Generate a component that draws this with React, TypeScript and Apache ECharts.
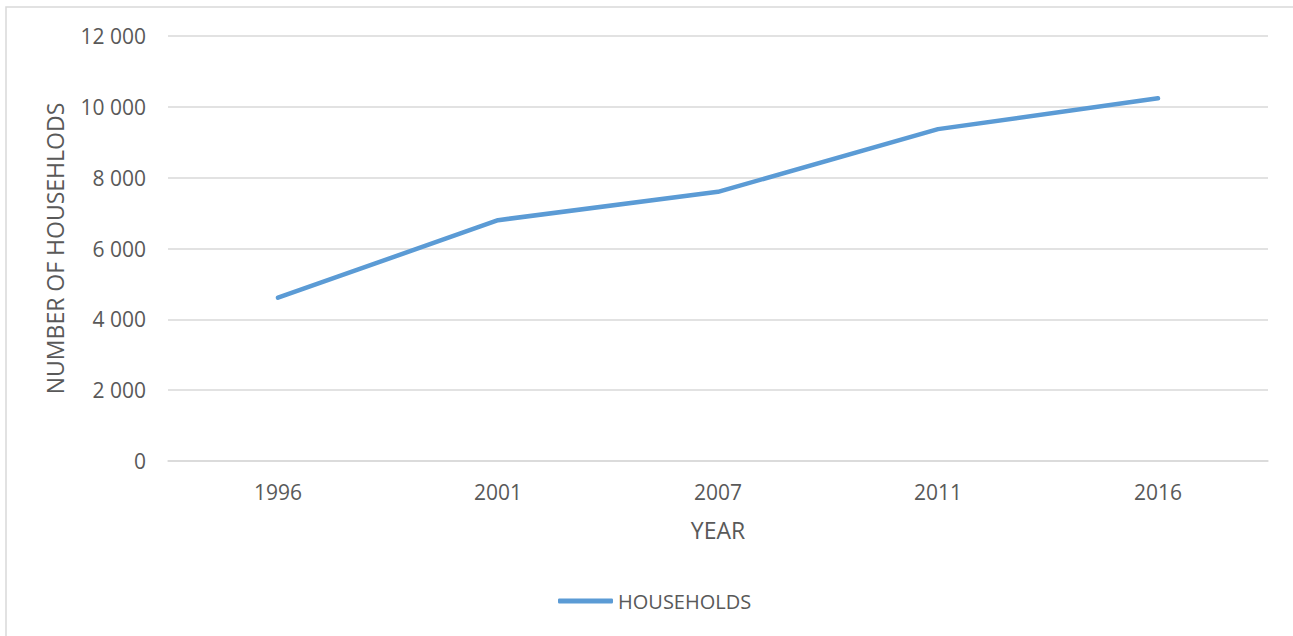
import React, { useEffect, useRef } from "react";
import * as echarts from "echarts";

const categories = ["1996", "2001", "2007", "2011", "2016"];
const households = [4610, 6800, 7600, 9370, 10240];
const seriesName = "HOUSEHOLDS";
const yAxisTitle = "NUMBER OF HOUSEHLODS";
const xAxisTitle = "YEAR";

const FONT = "Open Sans";
const TEXT = "#595959";
const GRID = "#d9d9d9";

export default function App() {
  const ref = useRef<HTMLDivElement>(null);
  useEffect(() => {
    if (!ref.current) return;
    const chart = echarts.init(ref.current, null, { renderer: "svg" });
    chart.setOption({
      animation: false,
      backgroundColor: "#ffffff",
      textStyle: { fontFamily: FONT, color: TEXT },
      graphic: [
        {
          type: "polyline",
          shape: { points: [[6, 700], [6, 7], [1400, 7]] },
          style: { stroke: GRID, lineWidth: 1.5, fill: "none" },
          silent: true,
        },
      ],
      grid: { left: 168, right: 25, top: 36, bottom: 175, containLabel: false },
      legend: {
        data: [seriesName],
        left: 553,
        top: 586,
        icon: "roundRect",
        itemWidth: 55,
        itemHeight: 5,
        itemGap: 5,
        textStyle: { fontFamily: FONT, fontSize: 20, color: TEXT, padding: [0, 0, 0, 0] },
      },
      xAxis: {
        type: "category",
        data: categories,
        boundaryGap: true,
        name: xAxisTitle,
        nameLocation: "middle",
        nameGap: 57,
        nameTextStyle: { fontFamily: FONT, fontSize: 23, color: TEXT },
        axisLine: { lineStyle: { color: GRID, width: 1.5 } },
        axisTick: { show: false },
        axisLabel: { margin: 20, fontFamily: FONT, fontSize: 21, color: TEXT },
        splitLine: { show: false },
      },
      yAxis: {
        type: "value",
        min: 0,
        max: 12000,
        interval: 2000,
        name: yAxisTitle,
        nameLocation: "middle",
        nameGap: 102,
        nameRotate: 90,
        nameTextStyle: { fontFamily: FONT, fontSize: 23, color: TEXT },
        axisLine: { show: false },
        axisTick: { show: false },
        axisLabel: {
          margin: 22,
          fontFamily: FONT,
          fontSize: 21,
          color: TEXT,
          formatter: (v: number) => String(v).replace(/\B(?=(\d{3})+(?!\d))/g, " "),
        },
        splitLine: { lineStyle: { color: GRID, width: 1.5 } },
      },
      series: [
        {
          name: seriesName,
          type: "line",
          data: households,
          symbol: "none",
          lineStyle: { color: "#5b9bd5", width: 4.5, cap: "round", join: "round" },
          itemStyle: { color: "#5b9bd5" },
        },
      ],
    });
    return () => chart.dispose();
  }, []);
  return (
    <div
      ref={ref}
      style={{ position: "fixed", left: 0, top: 0, width: 1293, height: 636 }}
    />
  );
}
